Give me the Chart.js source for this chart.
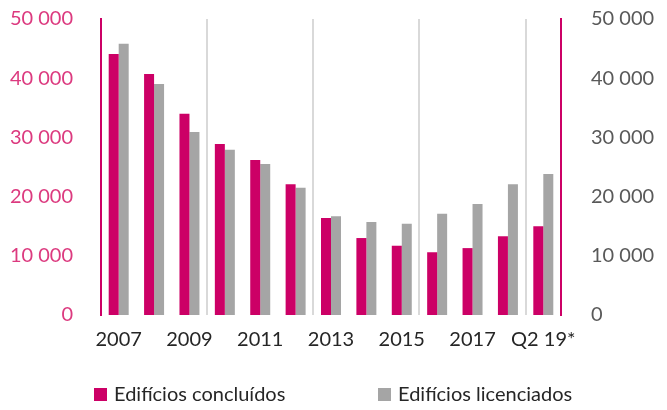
<!DOCTYPE html>
<html>
<head>
<meta charset="utf-8">
<script src="https://cdn.jsdelivr.net/npm/chart.js@4/dist/chart.umd.min.js"></script>
<style>
  html, body { margin: 0; padding: 0; background: #fff; }
  #wrap { width: 667px; height: 410px; }
</style>
</head>
<body>
<div id="wrap"><canvas id="myChart" width="667" height="410"></canvas></div>
<script>
// data
const years = ['2007', '2008', '2009', '2010', '2011', '2012', '2013', '2014', '2015', '2016', '2017', '2018', 'Q2 19*'];
const concluidos = [44100, 40700, 34000, 28900, 26200, 22100, 16400, 13000, 11700, 10600, 11300, 13300, 15000];
const licenciados = [45800, 39000, 30900, 27900, 25500, 21500, 16700, 15700, 15400, 17100, 18750, 22100, 23800];
const yTicks = [0, 10000, 20000, 30000, 40000, 50000];

const pink = '#cc0066';
const grey = '#a5a5a5';
const fontFamily = 'Lato, "Open Sans", sans-serif';

function fmt(v) {
    return String(v).replace(/\B(?=(\d{3})+(?!\d))/g, ' ');
}

// fix the axis sizes so the plot area sits where the original has it
function fitY(width) {
    return s => {
        s.width = width;
        s.paddingTop = 0;
        s.paddingBottom = 0;
    };
}

// legend drawn at the bottom of the canvas
const bottomLegend = {
    id: 'bottomLegend',
    afterDraw(chart) {
        const ctx = chart.ctx;
        const xs = [94, 378];
        ctx.save();
        ctx.font = '20px ' + fontFamily;
        ctx.textBaseline = 'middle';
        ctx.textAlign = 'left';
        chart.data.datasets.forEach((ds, i) => {
            ctx.fillStyle = ds.backgroundColor;
            ctx.fillRect(xs[i], 388, 13, 13);
            ctx.fillStyle = '#262626';
            ctx.fillText(ds.label, xs[i] + 20, 395);
        });
        ctx.restore();
    }
};

let myChart = document.getElementById('myChart').getContext('2d');

let chart = new Chart(myChart, {
    type: 'bar',
    data: {
        labels: years,
        datasets: [
            {
                label: 'Edifícios concluídos',
                data: concluidos,
                backgroundColor: pink,
                categoryPercentage: 0.565,
                barPercentage: 1
            },
            {
                label: 'Edifícios licenciados',
                data: licenciados,
                backgroundColor: grey,
                categoryPercentage: 0.565,
                barPercentage: 1
            }
        ]
    },
    plugins: [bottomLegend],
    options: {
        responsive: false,
        animation: false,
        layout: { padding: { top: 19, bottom: 50, left: 0, right: 0 } },
        plugins: {
            legend: { display: false },
            tooltip: { enabled: false }
        },
        scales: {
            x: {
                afterFit: s => { s.height = 45; s.paddingLeft = 0; s.paddingRight = 0; },
                border: { display: false },
                grid: {
                    offset: true,
                    drawTicks: false,
                    lineWidth: 2,
                    color: c => [3, 6, 9, 12].includes(c.index) ? '#d9d9d9' : 'transparent'
                },
                ticks: {
                    autoSkip: false,
                    maxRotation: 0,
                    padding: 13,
                    color: '#262626',
                    font: { family: fontFamily, size: 20 },
                    callback: function (v, i) { return i % 2 === 0 ? years[i] : ''; }
                }
            },
            y: {
                position: 'left',
                min: 0,
                max: 50000,
                afterFit: fitY(101),
                afterBuildTicks: s => { s.ticks = yTicks.map(v => ({ value: v })); },
                border: { color: pink, width: 2 },
                grid: { display: false },
                ticks: {
                    padding: 20,
                    color: '#dc3a7f',
                    font: { family: fontFamily, size: 20 },
                    callback: v => fmt(v)
                }
            },
            y1: {
                position: 'right',
                min: 0,
                max: 50000,
                afterFit: fitY(106),
                afterBuildTicks: s => { s.ticks = yTicks.map(v => ({ value: v })); },
                border: { color: pink, width: 2 },
                grid: { display: false },
                ticks: {
                    padding: 22,
                    color: '#595959',
                    font: { family: fontFamily, size: 20 },
                    callback: v => fmt(v)
                }
            }
        }
    }
});
</script>
</body>
</html>
